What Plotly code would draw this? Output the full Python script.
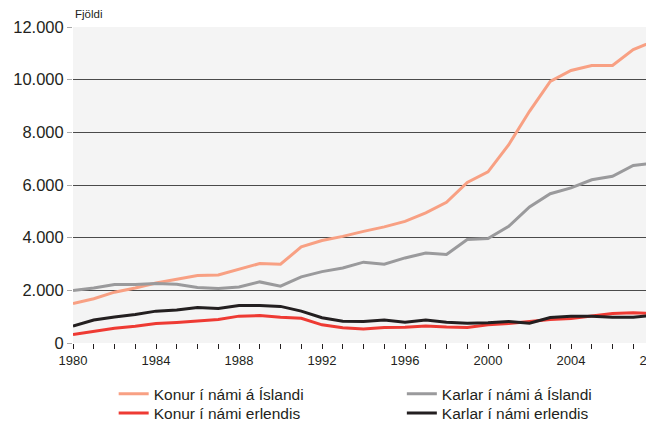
import plotly.graph_objects as go

# data
years = list(range(1980, 2009))
konur_islandi = [1500, 1680, 1930, 2090, 2280, 2410, 2560, 2580, 2790, 3020,
                 2990, 3650, 3890, 4050, 4240, 4410, 4620, 4940, 5340, 6100,
                 6500, 7530, 8800, 9930, 10350, 10540, 10540, 11140, 11470]
karlar_islandi = [1990, 2090, 2220, 2220, 2260, 2230, 2110, 2070, 2130, 2320,
                  2160, 2510, 2710, 2850, 3070, 2990, 3230, 3420, 3360, 3930,
                  3970, 4430, 5170, 5670, 5890, 6200, 6330, 6740, 6840]
konur_erlendis = [320, 440, 560, 640, 740, 780, 830, 890, 1020, 1040,
                  980, 940, 690, 580, 530, 590, 600, 650, 610, 590,
                  690, 740, 820, 890, 930, 1020, 1120, 1150, 1120]
karlar_erlendis = [640, 870, 990, 1080, 1210, 1250, 1350, 1310, 1420, 1420,
                   1390, 1210, 960, 830, 820, 870, 790, 870, 790, 750,
                   770, 820, 750, 970, 1020, 1020, 980, 980, 1050]

x_ticks = years
x_labels = [str(y) if y % 4 == 0 else '' for y in years]
y_ticks = [0, 2000, 4000, 6000, 8000, 10000, 12000]

# name, values, colour, legend id (one legend per entry, 2x2 grid)
series = [
    ('Konur í námi á Íslandi', konur_islandi, '#f8a083', 'legend'),
    ('Karlar í námi á Íslandi', karlar_islandi, '#9a9a9c', 'legend2'),
    ('Konur í námi erlendis', konur_erlendis, '#ee3a33', 'legend3'),
    ('Karlar í námi erlendis', karlar_erlendis, '#231f20', 'legend4'),
]

fig = go.Figure()
for name, vals, col, leg in series:
    fig.add_trace(go.Scatter(x=years, y=vals, name=name, mode='lines',
                             line=dict(color=col, width=3), legend=leg))

font_main = 'Liberation Sans, Arial, sans-serif'
legend_style = dict(orientation='h', xanchor='left', yanchor='middle',
                    font=dict(family=font_main, size=15.5, color='#231f20'),
                    bgcolor='rgba(0,0,0,0)')
col1, col2 = 0.07, 0.566
row1, row2 = -0.1623, -0.2225

# page body has an 8px margin, so the figure is 8px smaller than the window
fig.update_layout(
    width=646, height=418,
    margin=dict(l=65, r=0, t=19, b=83, autoexpand=False),
    paper_bgcolor='white',
    plot_bgcolor='#f4f4f4',
    separators=',.',
    showlegend=True,
    legend=dict(x=col1, y=row1, **legend_style),
    legend2=dict(x=col2, y=row1, **legend_style),
    legend3=dict(x=col1, y=row2, **legend_style),
    legend4=dict(x=col2, y=row2, **legend_style),
    xaxis=dict(range=[1980, 2008], tickmode='array', tickvals=x_ticks,
               ticktext=x_labels, ticks='outside', ticklen=5, tickwidth=1,
               tickcolor='#231f20', showgrid=False, zeroline=False, showline=False,
               ticklabeloverflow='allow',
               tickfont=dict(family='Liberation Sans Narrow, Liberation Sans, sans-serif',
                             size=13, color='#231f20')),
    yaxis=dict(range=[0, 12000], tickmode='array', tickvals=y_ticks,
               tickformat=',d', ticks='outside', ticklen=5, tickcolor='#aaaaaa',
               showgrid=True, gridcolor='#4a4a4a', gridwidth=1,
               zeroline=False, showline=False,
               tickfont=dict(family=font_main, size=16.5, color='#231f20')),
    annotations=[dict(text='Fjöldi', xref='paper', yref='paper', x=0, y=1.04,
                      xanchor='left', yanchor='middle', showarrow=False,
                      font=dict(family=font_main, size=11.5, color='#231f20'))],
)

fig.write_html('out.html')
